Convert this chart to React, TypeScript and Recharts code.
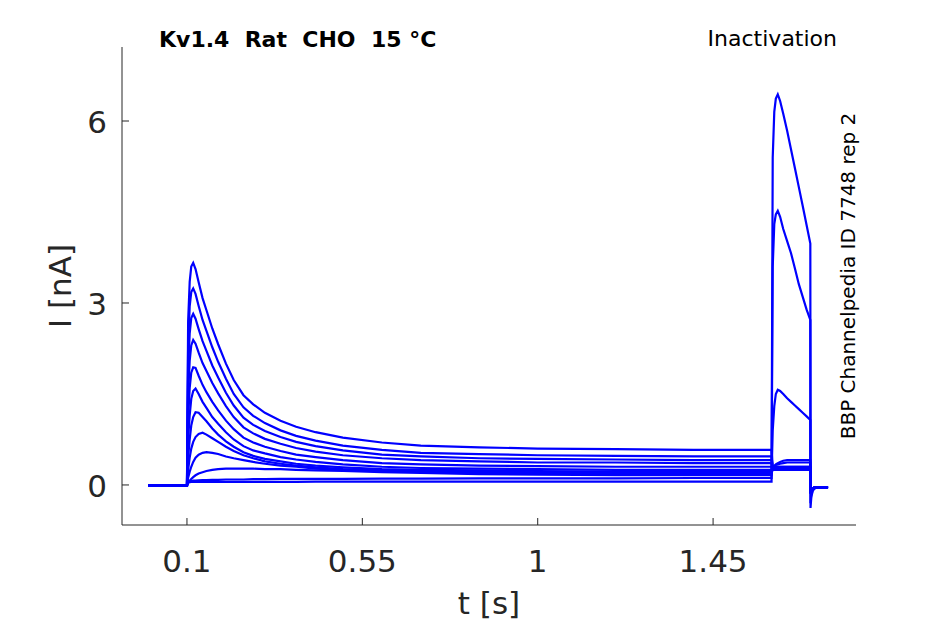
import React from 'react';
import { LineChart, Line, XAxis, YAxis } from 'recharts';

// time grid [s]
const T = [
  0, 0.1,
  0.103, 0.107, 0.111, 0.116, 0.122, 0.13, 0.14, 0.15,
  0.165, 0.18, 0.2, 0.22, 0.245, 0.27, 0.3,
  0.34, 0.38, 0.43, 0.5, 0.6, 0.7, 0.85,
  1.0, 1.2, 1.4, 1.6,
  1.603, 1.607, 1.611, 1.616, 1.622, 1.63, 1.64, 1.65, 1.66, 1.67, 1.68, 1.69, 1.6995,
  1.7, 1.702, 1.706, 1.712, 1.745,
];

// current traces [nA]
const I1 = [
  -0.01, -0.01,
  2.7, 3.35, 3.6, 3.66, 3.56, 3.34, 3.08, 2.88,
  2.58, 2.32, 2.0, 1.73, 1.48, 1.33, 1.19,
  1.06, 0.96, 0.87, 0.78, 0.7, 0.65, 0.62,
  0.6, 0.59, 0.58, 0.58,
  0.3, 0.3, 0.3, 0.3, 0.3, 0.3, 0.3, 0.3, 0.3, 0.3, 0.3, 0.3, 0.3,
  -0.08, -0.06, -0.05, -0.04, -0.04,
];
const I2 = [
  -0.01, -0.01,
  2.3, 2.95, 3.18, 3.24, 3.15, 2.95, 2.72, 2.54,
  2.27, 2.03, 1.75, 1.5, 1.28, 1.14, 1.02,
  0.9, 0.81, 0.73, 0.65, 0.58, 0.53, 0.51,
  0.49, 0.48, 0.47, 0.47,
  0.3, 0.3, 0.3, 0.3, 0.3, 0.3, 0.3, 0.3, 0.3, 0.3, 0.3, 0.3, 0.3,
  -0.08, -0.06, -0.05, -0.04, -0.04,
];
const I3 = [
  -0.01, -0.01,
  1.9, 2.5, 2.75, 2.82, 2.74, 2.57, 2.37, 2.21,
  1.97, 1.77, 1.52, 1.31, 1.11, 0.99, 0.89,
  0.79, 0.71, 0.64, 0.57, 0.5, 0.47, 0.44,
  0.43, 0.42, 0.41, 0.41,
  0.29, 0.29, 0.29, 0.29, 0.29, 0.29, 0.29, 0.29, 0.29, 0.29, 0.29, 0.29, 0.29,
  -0.08, -0.06, -0.05, -0.04, -0.04,
];
const I4 = [
  -0.01, -0.01,
  1.5, 2.05, 2.3, 2.39, 2.33, 2.18, 2.01, 1.88,
  1.68, 1.51, 1.3, 1.12, 0.95, 0.85, 0.76,
  0.68, 0.61, 0.55, 0.49, 0.44, 0.41, 0.39,
  0.37, 0.37, 0.36, 0.36,
  0.28, 0.28, 0.28, 0.28, 0.28, 0.28, 0.28, 0.28, 0.28, 0.28, 0.28, 0.28, 0.28,
  -0.08, -0.06, -0.05, -0.04, -0.04,
];
const I5 = [
  -0.01, -0.01,
  1.1, 1.6, 1.85, 1.94, 1.93, 1.8, 1.65, 1.53,
  1.37, 1.23, 1.06, 0.92, 0.78, 0.7, 0.63,
  0.56, 0.5, 0.46, 0.41, 0.36, 0.34, 0.32,
  0.31, 0.3, 0.3, 0.3,
  0.27, 0.27, 0.27, 0.27, 0.27, 0.27, 0.27, 0.27, 0.27, 0.27, 0.27, 0.27, 0.27,
  -0.08, -0.06, -0.05, -0.04, -0.04,
];
const I6 = [
  -0.01, -0.01,
  0.75, 1.15, 1.42, 1.55, 1.59, 1.5, 1.37, 1.27,
  1.12, 1.01, 0.87, 0.75, 0.64, 0.57, 0.52,
  0.46, 0.42, 0.38, 0.34, 0.3, 0.28, 0.27,
  0.26, 0.25, 0.25, 0.25,
  0.26, 0.26, 0.26, 0.26, 0.26, 0.26, 0.26, 0.26, 0.26, 0.26, 0.26, 0.26, 0.26,
  -0.08, -0.06, -0.05, -0.04, -0.04,
];
const I7 = [
  -0.01, -0.01,
  0.45, 0.75, 0.98, 1.12, 1.2, 1.19, 1.12, 1.05,
  0.93, 0.83, 0.72, 0.63, 0.54, 0.48, 0.43,
  0.39, 0.35, 0.32, 0.29, 0.26, 0.25, 0.24,
  0.23, 0.22, 0.22, 0.22,
  0.25, 0.25, 0.25, 0.25, 0.25, 0.25, 0.25, 0.25, 0.25, 0.25, 0.25, 0.25, 0.25,
  -0.08, -0.06, -0.05, -0.04, -0.04,
];
const I8 = [
  -0.01, -0.01,
  0.25, 0.45, 0.6, 0.71, 0.79, 0.84, 0.86, 0.83,
  0.77, 0.71, 0.63, 0.56, 0.49, 0.44, 0.39,
  0.35, 0.32, 0.29, 0.26, 0.24, 0.23, 0.22,
  0.21, 0.2, 0.2, 0.2,
  0.28, 0.31, 0.33, 0.34, 0.35, 0.36, 0.37, 0.37, 0.37, 0.37, 0.37, 0.37, 0.37,
  -0.07, -0.06, -0.05, -0.04, -0.04,
];
const I9 = [
  -0.01, -0.01,
  0.12, 0.22, 0.3, 0.38, 0.45, 0.5, 0.53, 0.54,
  0.53, 0.51, 0.47, 0.44, 0.41, 0.38, 0.35,
  0.32, 0.3, 0.27, 0.25, 0.23, 0.21, 0.2,
  0.19, 0.18, 0.18, 0.18,
  0.27, 0.31, 0.34, 0.36, 0.38, 0.4, 0.41, 0.41, 0.41, 0.41, 0.41, 0.41, 0.41,
  -0.08, -0.06, -0.05, -0.04, -0.04,
];
const I10 = [
  -0.01, -0.01,
  0.03, 0.07, 0.1, 0.13, 0.16, 0.19, 0.21, 0.23,
  0.25, 0.26, 0.27, 0.27, 0.27, 0.27, 0.26,
  0.26, 0.25, 0.24, 0.23, 0.21, 0.2, 0.18,
  0.17, 0.16, 0.16, 0.16,
  0.9, 1.3, 1.5, 1.57, 1.55, 1.5, 1.43, 1.37, 1.31, 1.25, 1.19, 1.13, 1.07,
  -0.15, -0.1, -0.06, -0.05, -0.04,
];
const I11 = [
  -0.01, -0.01,
  0.05, 0.06, 0.065, 0.07, 0.07, 0.075, 0.08, 0.08,
  0.085, 0.085, 0.09, 0.09, 0.09, 0.095, 0.095,
  0.1, 0.1, 0.1, 0.1, 0.105, 0.105, 0.11,
  0.11, 0.11, 0.115, 0.115,
  3.6, 4.3, 4.46, 4.52, 4.42, 4.22, 4.02, 3.82, 3.57, 3.31, 3.1, 2.89, 2.72,
  -0.3, -0.16, -0.08, -0.05, -0.04,
];
const I12 = [
  -0.01, -0.01,
  0.04, 0.045, 0.05, 0.05, 0.05, 0.05, 0.05, 0.05,
  0.05, 0.05, 0.05, 0.05, 0.05, 0.05, 0.05,
  0.05, 0.05, 0.055, 0.055, 0.055, 0.055, 0.055,
  0.055, 0.055, 0.055, 0.055,
  5.4, 6.15, 6.37, 6.44, 6.33, 6.12, 5.84, 5.53, 5.22, 4.91, 4.6, 4.28, 3.98,
  -0.38, -0.2, -0.09, -0.05, -0.04,
];

const TRACES = [I1, I2, I3, I4, I5, I6, I7, I8, I9, I10, I11, I12];
const X_TICKS = [0.1, 0.55, 1, 1.45];
const Y_TICKS = [0, 3, 6];

const rows = T.map((t, i) => {
  const r: Record<string, number> = { t };
  TRACES.forEach((s, k) => {
    r['s' + k] = s[i];
  });
  return r;
});

const FONT = '"DejaVu Sans", sans-serif';
const AX = '#262626';

const XTick = (props: any) => {
  const { x, y, payload } = props;
  return (
    <g>
      <line x1={x} x2={x} y1={y} y2={y - 7} stroke={AX} strokeWidth={1} />
      <text x={x} y={y + 47} textAnchor="middle" fontSize={31} fontFamily={FONT} fill={AX}>
        {String(payload.value)}
      </text>
    </g>
  );
};

const YTick = (props: any) => {
  const { x, y, payload } = props;
  return (
    <g>
      <line x1={x} x2={x + 7} y1={y} y2={y} stroke={AX} strokeWidth={1} />
      <text x={x - 15} y={y + 12} textAnchor="end" fontSize={31} fontFamily={FONT} fill={AX}>
        {String(payload.value)}
      </text>
    </g>
  );
};

export default function App() {
  return (
    <div style={{ position: 'absolute', left: 0, top: 0, width: 945, height: 624, background: '#fff' }}>
      <LineChart
        width={945}
        height={624}
        data={rows}
        margin={{ top: 47, right: 89, bottom: 98, left: 121 }}
      >
        <XAxis
          dataKey="t"
          type="number"
          domain={[-0.0667, 1.8167]}
          ticks={X_TICKS}
          allowDataOverflow
          height={1}
          tickSize={0}
          tickMargin={0}
          tickLine={false}
          axisLine={{ stroke: AX, strokeWidth: 1 }}
          tick={XTick}
          interval={0}
        />
        <YAxis
          type="number"
          domain={[-0.66, 7.22]}
          ticks={Y_TICKS}
          allowDataOverflow
          width={1}
          tickSize={0}
          tickMargin={0}
          tickLine={false}
          axisLine={{ stroke: AX, strokeWidth: 1 }}
          tick={YTick}
          interval={0}
        />
        {TRACES.map((_, k) => (
          <Line
            key={k}
            dataKey={'s' + k}
            type="linear"
            stroke="#0000ff"
            strokeWidth={2.2}
            dot={false}
            activeDot={false}
            isAnimationActive={false}
          />
        ))}
      </LineChart>
      <svg
        width={945}
        height={624}
        style={{ position: 'absolute', left: 0, top: 0, pointerEvents: 'none' }}
      >
        <text x={159} y={47} fontSize={22} fontWeight="bold" fontFamily={FONT} fill="#000" style={{ whiteSpace: 'pre' }}>
          {'Kv1.4  Rat  CHO  15 °C'}
        </text>
        <text x={837} y={46} fontSize={22} textAnchor="end" fontFamily={FONT} fill="#000">
          Inactivation
        </text>
        <text x={489} y={614} fontSize={31} textAnchor="middle" fontFamily={FONT} fill={AX}>
          t [s]
        </text>
        <text
          x={0}
          y={0}
          transform="translate(71,286) rotate(-90)"
          fontSize={31}
          textAnchor="middle"
          fontFamily={FONT}
          fill={AX}
        >
          I [nA]
        </text>
        <text
          x={0}
          y={0}
          transform="translate(855,276) rotate(-90)"
          fontSize={20}
          textAnchor="middle"
          fontFamily={FONT}
          fill="#000"
        >
          BBP Channelpedia ID 7748 rep 2
        </text>
      </svg>
    </div>
  );
}
